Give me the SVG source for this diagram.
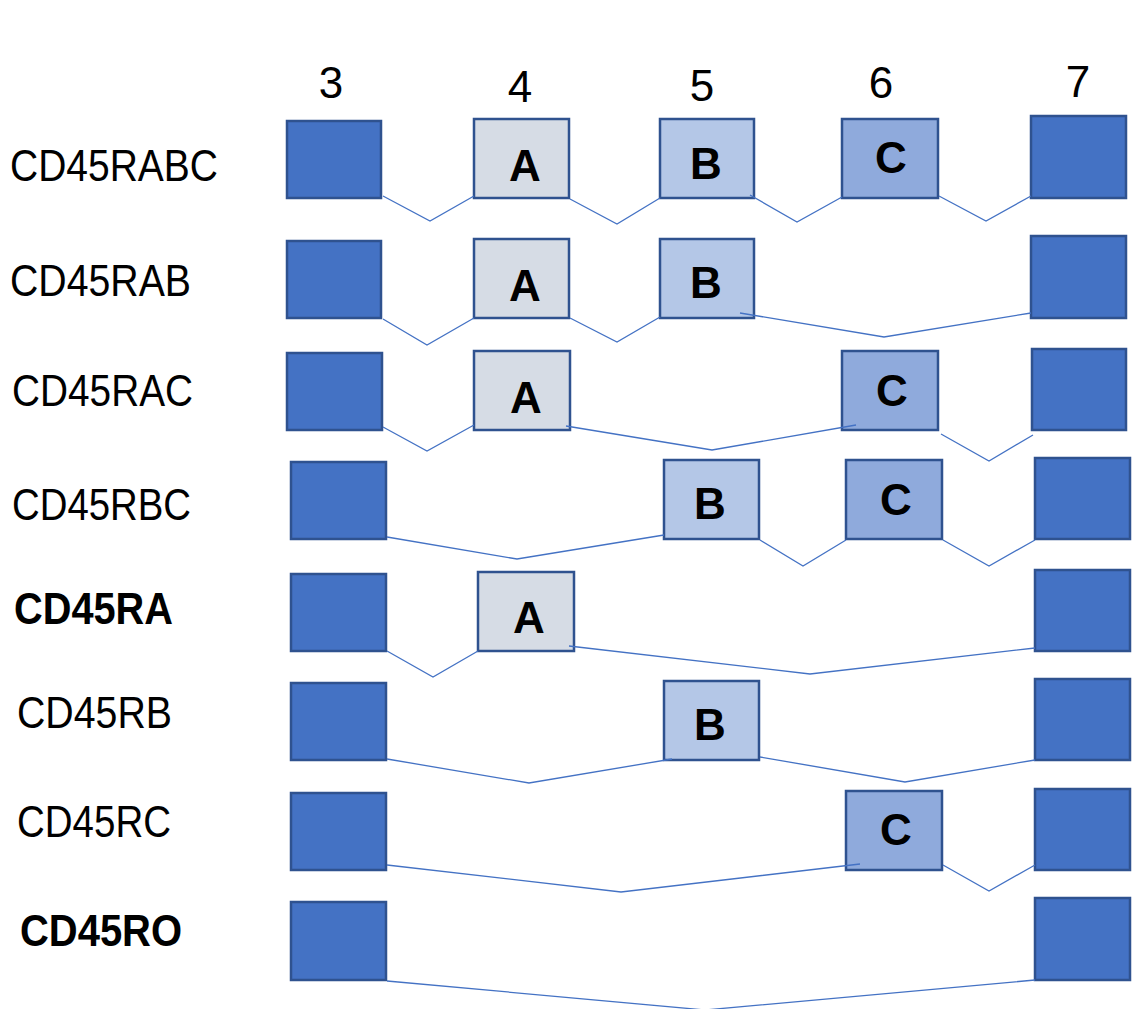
<svg xmlns="http://www.w3.org/2000/svg" width="1134" height="1009" viewBox="0 0 1134 1009">
<style>
.ex{fill:#4472C4;stroke:#2F528F;stroke-width:2.5}
.a{fill:#D6DCE5;stroke:#2F528F;stroke-width:2.5}
.b{fill:#B4C7E7;stroke:#2F528F;stroke-width:2.5}
.c{fill:#8FAADC;stroke:#2F528F;stroke-width:2.5}
.lt{font-family:"Liberation Sans",Arial,sans-serif;font-size:45px;fill:#000}
.lb{font-family:"Liberation Sans",Arial,sans-serif;font-size:45px;font-weight:bold;fill:#000}
.num{font-family:"Liberation Sans",Arial,sans-serif;font-size:44px;fill:#000;text-anchor:middle}
.bx{font-family:"Liberation Sans",Arial,sans-serif;font-size:44px;font-weight:bold;fill:#000;text-anchor:middle}
#connectors polyline{fill:none;stroke:#4472C4;stroke-width:1.3}
</style>
<rect width="1134" height="1009" fill="#fff"/>
<g id="headers">
<text class="num" x="331" y="98">3</text>
<text class="num" x="520" y="102">4</text>
<text class="num" x="702" y="101">5</text>
<text class="num" x="881" y="98">6</text>
<text class="num" x="1078" y="97">7</text>
</g>
<g id="labels">
<text class="lt" x="10" y="181" textLength="208" lengthAdjust="spacingAndGlyphs">CD45RABC</text>
<text class="lt" x="10" y="296" textLength="181" lengthAdjust="spacingAndGlyphs">CD45RAB</text>
<text class="lt" x="12" y="406" textLength="181" lengthAdjust="spacingAndGlyphs">CD45RAC</text>
<text class="lt" x="12" y="520" textLength="179" lengthAdjust="spacingAndGlyphs">CD45RBC</text>
<text class="lb" x="14" y="624" textLength="159" lengthAdjust="spacingAndGlyphs">CD45RA</text>
<text class="lt" x="17" y="728" textLength="155" lengthAdjust="spacingAndGlyphs">CD45RB</text>
<text class="lt" x="17" y="837" textLength="154" lengthAdjust="spacingAndGlyphs">CD45RC</text>
<text class="lb" x="20" y="946" textLength="162" lengthAdjust="spacingAndGlyphs">CD45RO</text>
</g>
<g id="row1">
<g id="r1e3"><rect class="ex" x="287" y="121" width="94" height="77"/></g>
<g id="r1a"><rect class="a" x="474" y="119" width="95" height="79"/><text class="bx" x="525" y="181">A</text></g>
<g id="r1b"><rect class="b" x="660" y="119" width="94" height="79"/><text class="bx" x="706" y="179">B</text></g>
<g id="r1c"><rect class="c" x="842" y="119" width="96" height="79"/><text class="bx" x="891" y="173">C</text></g>
<g id="r1e7"><rect class="ex" x="1031" y="116" width="95" height="82"/></g>
</g>
<g id="row2">
<g id="r2e3"><rect class="ex" x="287" y="241" width="94" height="77"/></g>
<g id="r2a"><rect class="a" x="474" y="239" width="95" height="79"/><text class="bx" x="525" y="301">A</text></g>
<g id="r2b"><rect class="b" x="660" y="239" width="94" height="79"/><text class="bx" x="706" y="298">B</text></g>
<g id="r2e7"><rect class="ex" x="1031" y="236" width="95" height="82"/></g>
</g>
<g id="row3">
<g id="r3e3"><rect class="ex" x="287" y="353" width="95" height="77"/></g>
<g id="r3a"><rect class="a" x="474" y="351" width="96" height="79"/><text class="bx" x="526" y="413">A</text></g>
<g id="r3c"><rect class="c" x="842" y="351" width="96" height="79"/><text class="bx" x="892" y="406">C</text></g>
<g id="r3e7"><rect class="ex" x="1032" y="349" width="94" height="81"/></g>
</g>
<g id="row4">
<g id="r4e3"><rect class="ex" x="291" y="462" width="95" height="77"/></g>
<g id="r4b"><rect class="b" x="664" y="460" width="95" height="79"/><text class="bx" x="710" y="519">B</text></g>
<g id="r4c"><rect class="c" x="846" y="460" width="96" height="79"/><text class="bx" x="896" y="515">C</text></g>
<g id="r4e7"><rect class="ex" x="1035" y="458" width="95" height="81"/></g>
</g>
<g id="row5">
<g id="r5e3"><rect class="ex" x="291" y="574" width="95" height="77"/></g>
<g id="r5a"><rect class="a" x="478" y="572" width="96" height="79"/><text class="bx" x="529" y="633">A</text></g>
<g id="r5e7"><rect class="ex" x="1035" y="570" width="95" height="81"/></g>
</g>
<g id="row6">
<g id="r6e3"><rect class="ex" x="291" y="683" width="95" height="77"/></g>
<g id="r6b"><rect class="b" x="664" y="681" width="95" height="79"/><text class="bx" x="710" y="740">B</text></g>
<g id="r6e7"><rect class="ex" x="1035" y="679" width="95" height="81"/></g>
</g>
<g id="row7">
<g id="r7e3"><rect class="ex" x="291" y="793" width="95" height="77"/></g>
<g id="r7c"><rect class="c" x="846" y="791" width="96" height="79"/><text class="bx" x="896" y="845">C</text></g>
<g id="r7e7"><rect class="ex" x="1035" y="789" width="95" height="81"/></g>
</g>
<g id="row8">
<g id="r8e3"><rect class="ex" x="291" y="902" width="95" height="78"/></g>
<g id="r8e7"><rect class="ex" x="1035" y="898" width="95" height="82"/></g>
</g>
<g id="connectors">
<polyline points="383,196 430,221 474,196"/>
<polyline points="570,199 617,224 660,198"/>
<polyline points="750,195 797,222 842,197"/>
<polyline points="939,196 986,221 1031,196"/>
<polyline points="383,319 427,345 474,318"/>
<polyline points="570,318 617,342 660,317"/>
<polyline points="740,313 884,337 1031,313"/>
<polyline points="383,427 427,451 474,425"/>
<polyline points="566,426 712,450 856,425"/>
<polyline points="941,434 989,461 1033,435"/>
<polyline points="387,537 517,559 664,535"/>
<polyline points="760,540 803,566 846,540"/>
<polyline points="943,540 989,566 1035,540"/>
<polyline points="387,651 433,677 478,651"/>
<polyline points="569,646 810,674 1035,648"/>
<polyline points="387,759 529,783 672,759"/>
<polyline points="760,757 905,782 1035,760"/>
<polyline points="387,865 621,892 860,864"/>
<polyline points="943,865 989,891 1035,865"/>
<polyline points="387,981 705,1010 1035,980"/>
</g>
</svg>
